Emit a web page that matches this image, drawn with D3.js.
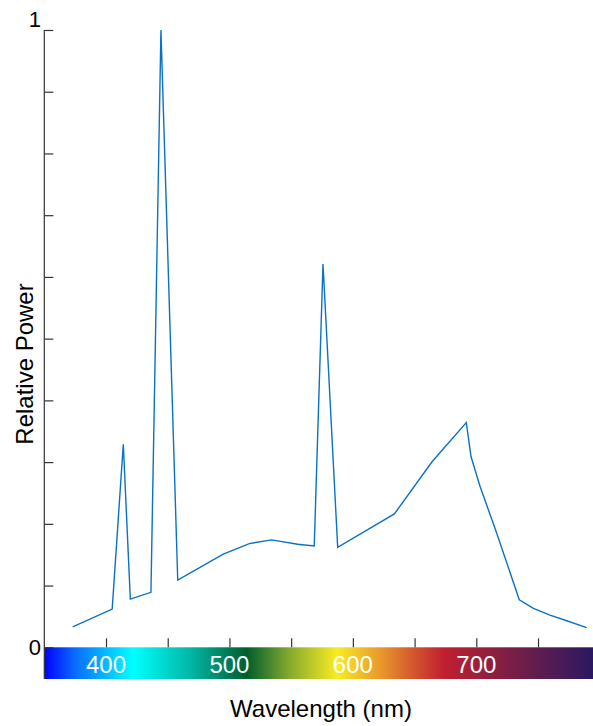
<!DOCTYPE html>
<html>
<head>
<meta charset="utf-8">
<script src="https://cdn.jsdelivr.net/npm/d3@7"></script>
<style>
  body { margin: 0; background: #fff; }
  text { font-family: "Liberation Sans", Arial, sans-serif; }
</style>
</head>
<body>
<div id="chart"></div>
<script>
var wavelengths = [373, 405, 414, 419.7, 436.4, 444.5, 458.1, 495, 516.1, 534.2, 555.3, 568.7, 575.8, 587.7, 633.6, 664.3, 691.9, 695.7, 703, 716.5, 734.8, 746.3, 759.7, 773.3, 789.4];
var power = [0.033, 0.062, 0.329, 0.078, 0.089, 1.0, 0.109, 0.151, 0.168, 0.174, 0.167, 0.164, 0.621, 0.162, 0.216, 0.301, 0.364, 0.309, 0.261, 0.185, 0.077, 0.063, 0.052, 0.043, 0.032];
var xTicks = [400, 450, 500, 550, 600, 650, 700, 750];
var xLabels = [400, 500, 600, 700];
var yTicks = [0, 0.1, 0.2, 0.3, 0.4, 0.5, 0.6, 0.7, 0.8, 0.9, 1];
var spectrumStops = [
  [350, "#0000ff"], [375, "#0a6cff"], [422, "#00ffff"], [468, "#00b8a8"],
  [514, "#005e2c"], [549, "#86aa2e"], [587, "#f9ec22"], [622, "#e89a2c"],
  [648, "#d4592e"], [674, "#c01f30"], [725, "#7e1f44"], [795, "#2a1862"]
];

var width = 593, height = 726;
var left = 44.3, barTop = 647.3, barBottom = 679;

var svg = d3.select("#chart").append("svg")
  .attr("width", width)
  .attr("height", height);

var xScale = d3.scaleLinear().domain([350, 800]).range([left, left + 450 * 1.2343]);
var yScale = d3.scaleLinear().domain([0, 1]).range([barTop, 30]);

// colour bar
var defs = svg.append("defs");
var grad = defs.append("linearGradient")
  .attr("id", "spectrum")
  .attr("gradientUnits", "userSpaceOnUse")
  .attr("x1", xScale(350)).attr("x2", xScale(795))
  .attr("y1", 0).attr("y2", 0);
grad.selectAll("stop").data(spectrumStops).enter().append("stop")
  .attr("offset", function(d) { return (d[0] - 350) / (795 - 350); })
  .attr("stop-color", function(d) { return d[1]; });

svg.append("rect")
  .attr("x", left)
  .attr("y", barTop)
  .attr("width", width - left)
  .attr("height", barBottom - barTop)
  .attr("fill", "url(#spectrum)");

svg.selectAll(".barLabel").data(xLabels).enter().append("text")
  .attr("class", "barLabel")
  .attr("x", function(d) { return xScale(d); })
  .attr("y", 673)
  .attr("text-anchor", "middle")
  .attr("font-size", 24)
  .attr("fill", "#fff")
  .text(function(d) { return d; });

// x ticks
var xAxis = d3.axisTop(xScale).tickValues(xTicks).tickSize(9).tickFormat("");
var gx = svg.append("g").attr("transform", "translate(0," + barTop + ")").call(xAxis);
gx.select(".domain").remove();
gx.selectAll("line").attr("stroke", "#333").attr("stroke-width", 1.2);

// y axis
var yAxis = d3.axisRight(yScale).tickValues(yTicks).tickSize(9).tickFormat("");
var gy = svg.append("g").attr("transform", "translate(" + left + ",0)").call(yAxis);
gy.select(".domain").remove();
gy.selectAll("line").attr("stroke", "#333").attr("stroke-width", 1.2);
svg.append("line")
  .attr("x1", left).attr("x2", left)
  .attr("y1", yScale(1)).attr("y2", barBottom)
  .attr("stroke", "#333").attr("stroke-width", 1.2);

svg.append("text")
  .attr("x", 41).attr("y", yScale(1) - 3)
  .attr("text-anchor", "end")
  .attr("font-size", 22)
  .text("1");
svg.append("text")
  .attr("x", 41).attr("y", yScale(0) + 7.5)
  .attr("text-anchor", "end")
  .attr("font-size", 22)
  .text("0");

// spectrum line
var line = d3.line()
  .x(function(d, i) { return xScale(wavelengths[i]); })
  .y(function(d) { return yScale(d); });

svg.append("path")
  .datum(power)
  .attr("d", line)
  .attr("fill", "none")
  .attr("stroke", "#0a72c4")
  .attr("stroke-width", 1.4)
  .attr("stroke-linejoin", "miter");

// axis titles
svg.append("text")
  .attr("transform", "translate(33,364) rotate(-90)")
  .attr("text-anchor", "middle")
  .attr("font-size", 24)
  .text("Relative Power");

svg.append("text")
  .attr("x", 321).attr("y", 717)
  .attr("text-anchor", "middle")
  .attr("font-size", 24)
  .text("Wavelength (nm)");
</script>
</body>
</html>
